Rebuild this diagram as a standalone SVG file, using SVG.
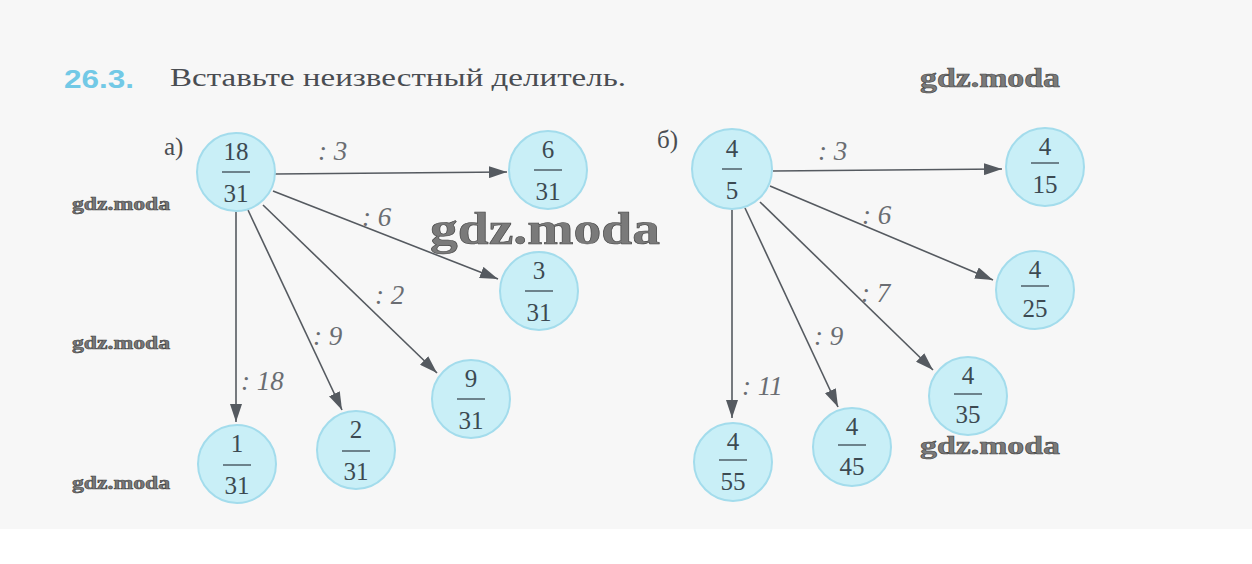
<svg xmlns="http://www.w3.org/2000/svg" width="1252" height="564" viewBox="0 0 1252 564">
<style>
.node circle{fill:#c9eff7;stroke:#a3dcec;stroke-width:2}
.num{font-family:"Liberation Serif","DejaVu Serif",serif;font-size:25px;fill:#3c4a52;text-anchor:middle}
.bar{stroke:#3c4a52;stroke-width:1.3}
.conn line{stroke:#555a60;stroke-width:1.6;fill:none}
.lbl{font-family:"Liberation Serif","DejaVu Serif",serif;font-style:italic;font-size:27px;fill:#6a6d72}
.wm{font-family:"Liberation Serif","DejaVu Serif",serif;font-weight:bold;fill:#7a7a7a;stroke:#444;stroke-width:0.6}
.hdr{font-family:"Liberation Serif","DejaVu Serif",serif;font-size:25px;fill:#4a4d52}
</style>
<defs>
<marker id="ah" markerUnits="userSpaceOnUse" markerWidth="18" markerHeight="12" refX="18" refY="6" orient="auto">
<path d="M0,0 L18,6 L0,12 z" fill="#555a60"/>
</marker>
</defs>
<rect x="0" y="0" width="1252" height="529" fill="#f7f7f7"/>
<rect x="0" y="529" width="1252" height="35" fill="#ffffff"/>
<text x="64" y="88" font-family="Liberation Sans,Arial,sans-serif" font-weight="bold" font-size="26" fill="#72c9e6" textLength="70" lengthAdjust="spacingAndGlyphs">26.3.</text>
<text class="hdr" x="170" y="86" textLength="456" lengthAdjust="spacingAndGlyphs">Вставьте неизвестный делитель.</text>
<text class="hdr" x="164" y="155">а)</text>
<text class="hdr" x="657" y="148">б)</text>
<g class="conn">
<line x1="275" y1="174" x2="507" y2="172" marker-end="url(#ah)"/>
<line x1="273" y1="191" x2="498" y2="279" marker-end="url(#ah)"/>
<line x1="263" y1="205" x2="437" y2="373" marker-end="url(#ah)"/>
<line x1="248" y1="210" x2="342" y2="410" marker-end="url(#ah)"/>
<line x1="236" y1="212" x2="236" y2="422" marker-end="url(#ah)"/>
<line x1="773" y1="171" x2="1002" y2="169" marker-end="url(#ah)"/>
<line x1="770" y1="186" x2="993" y2="280" marker-end="url(#ah)"/>
<line x1="760" y1="202" x2="933" y2="370" marker-end="url(#ah)"/>
<line x1="745" y1="208" x2="838" y2="407" marker-end="url(#ah)"/>
<line x1="732" y1="210" x2="732" y2="418" marker-end="url(#ah)"/>
<text class="lbl" x="318" y="160">: 3</text>
<text class="lbl" x="362" y="226">: 6</text>
<text class="lbl" x="375" y="304">: 2</text>
<text class="lbl" x="313" y="345">: 9</text>
<text class="lbl" x="241" y="390">: 18</text>
<text class="lbl" x="818" y="160">: 3</text>
<text class="lbl" x="862" y="224">: 6</text>
<text class="lbl" x="861" y="302">: 7</text>
<text class="lbl" x="814" y="345">: 9</text>
<text class="lbl" x="742" y="395">: 11</text>
</g>
<g id="n18_31" class="node"><circle cx="236" cy="172" r="39"/><text class="num" x="236" y="160">18</text><line class="bar" x1="222" y1="172" x2="250" y2="172"/><text class="num" x="236" y="202">31</text></g>
<g id="n6_31" class="node"><circle cx="548" cy="170" r="39"/><text class="num" x="548" y="158">6</text><line class="bar" x1="534" y1="170" x2="562" y2="170"/><text class="num" x="548" y="200">31</text></g>
<g id="n3_31" class="node"><circle cx="539" cy="291" r="39"/><text class="num" x="539" y="279">3</text><line class="bar" x1="525" y1="291" x2="553" y2="291"/><text class="num" x="539" y="321">31</text></g>
<g id="n9_31" class="node"><circle cx="471" cy="399" r="39"/><text class="num" x="471" y="387">9</text><line class="bar" x1="457" y1="399" x2="485" y2="399"/><text class="num" x="471" y="429">31</text></g>
<g id="n2_31" class="node"><circle cx="356" cy="450" r="39"/><text class="num" x="356" y="438">2</text><line class="bar" x1="342" y1="451" x2="370" y2="451"/><text class="num" x="356" y="480">31</text></g>
<g id="n1_31" class="node"><circle cx="237" cy="464" r="39"/><text class="num" x="237" y="452">1</text><line class="bar" x1="223" y1="465" x2="251" y2="465"/><text class="num" x="237" y="494">31</text></g>
<g id="n4_5" class="node"><circle cx="732" cy="169" r="40"/><text class="num" x="732" y="157">4</text><line class="bar" x1="722" y1="169" x2="742" y2="169"/><text class="num" x="732" y="199">5</text></g>
<g id="n4_15" class="node"><circle cx="1045" cy="167" r="39"/><text class="num" x="1045" y="155">4</text><line class="bar" x1="1031" y1="163" x2="1059" y2="163"/><text class="num" x="1045" y="193">15</text></g>
<g id="n4_25" class="node"><circle cx="1035" cy="290" r="39"/><text class="num" x="1035" y="278">4</text><line class="bar" x1="1021" y1="286" x2="1049" y2="286"/><text class="num" x="1035" y="317">25</text></g>
<g id="n4_35" class="node"><circle cx="968" cy="396" r="39"/><text class="num" x="968" y="384">4</text><line class="bar" x1="954" y1="394" x2="982" y2="394"/><text class="num" x="968" y="423">35</text></g>
<g id="n4_45" class="node"><circle cx="852" cy="447" r="39"/><text class="num" x="852" y="435">4</text><line class="bar" x1="838" y1="445" x2="866" y2="445"/><text class="num" x="852" y="475">45</text></g>
<g id="n4_55" class="node"><circle cx="733" cy="462" r="39"/><text class="num" x="733" y="450">4</text><line class="bar" x1="719" y1="460" x2="747" y2="460"/><text class="num" x="733" y="490">55</text></g>
<text class="wm" x="920" y="87" font-size="27" textLength="140" lengthAdjust="spacingAndGlyphs">gdz.moda</text>
<text class="wm" x="72" y="210" font-size="18" textLength="98" lengthAdjust="spacingAndGlyphs">gdz.moda</text>
<text class="wm" x="72" y="349" font-size="18" textLength="98" lengthAdjust="spacingAndGlyphs">gdz.moda</text>
<text class="wm" x="72" y="489" font-size="18" textLength="98" lengthAdjust="spacingAndGlyphs">gdz.moda</text>
<text class="wm" x="430" y="244" font-size="46" stroke-width="1.2" textLength="230" lengthAdjust="spacingAndGlyphs">gdz.moda</text>
<text class="wm" x="920" y="454" font-size="26" textLength="140" lengthAdjust="spacingAndGlyphs">gdz.moda</text>
</svg>
